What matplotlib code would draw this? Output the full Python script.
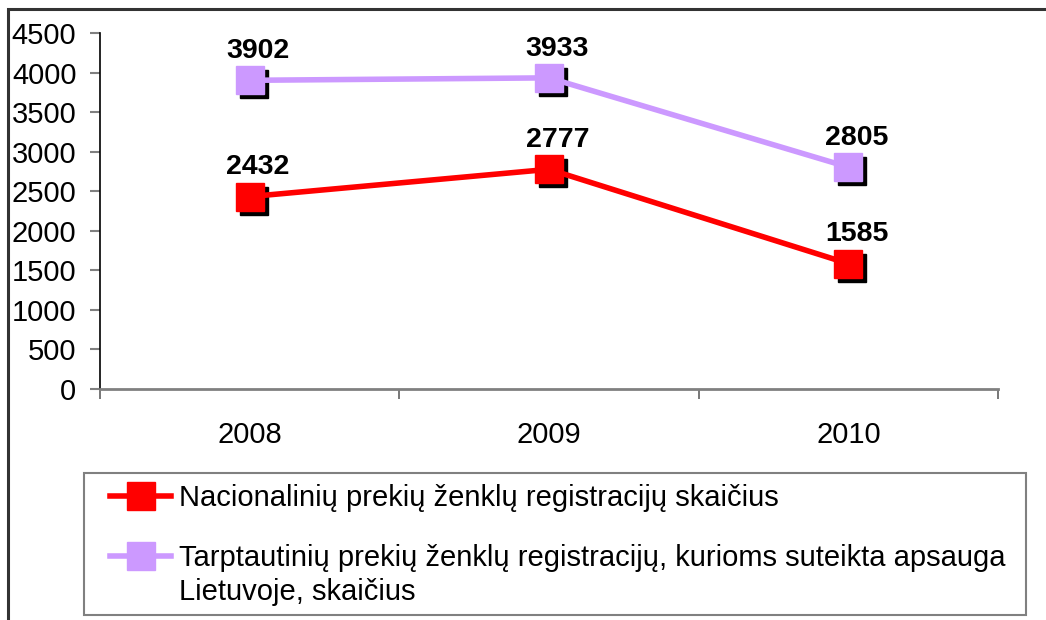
import matplotlib
matplotlib.use("Agg")
import matplotlib.pyplot as plt
from matplotlib import transforms
from matplotlib.patches import Rectangle
from matplotlib.lines import Line2D

years = ["2008", "2009", "2010"]
national = [2432, 2777, 1585]
international = [3902, 3933, 2805]
label_nat = "Nacionalinių prekių ženklų registracijų skaičius"
label_int_1 = "Tarptautinių prekių ženklų registracijų, kurioms suteikta apsauga"
label_int_2 = "Lietuvoje, skaičius"
yticks = [0, 500, 1000, 1500, 2000, 2500, 3000, 3500, 4000, 4500]

plt.rcParams['font.family'] = ['Liberation Sans', 'DejaVu Sans']

W, H = 1046, 620
fig = plt.figure(figsize=(W / 100, H / 100), dpi=100)
ax = fig.add_axes([100 / W, 1 - 389 / H, (998 - 100) / W, (389 - 33) / H])

x = list(range(len(years)))
red = "#FF0000"
purple = "#CC99FF"
ms = 19.5

for vals, col in [(international, purple), (national, red)]:
    shadow = transforms.offset_copy(ax.transData, fig=fig, x=4, y=-4, units='dots')
    ax.plot(x, vals, linestyle='none', marker='s', ms=ms, color='black',
            transform=shadow, zorder=3, clip_on=False)
    ax.plot(x, vals, color=col, lw=4, marker='s', ms=ms, mec=col, mfc=col,
            zorder=4, clip_on=False)
    for xi, v in zip(x, vals):
        ax.annotate(str(v), (xi, v), xytext=(6, 21), textcoords='offset points',
                    ha='center', va='center', fontsize=20.5, fontweight='bold')

ax.set_xlim(-0.5, 2.5)
ax.set_ylim(0, 4500)
ax.set_yticks(yticks)
ax.set_yticklabels([str(t) for t in yticks], fontsize=21)
ax.set_xticks(x)
ax.set_xticklabels(years, fontsize=21)
ax.set_xticks([-0.5, 0.5, 1.5, 2.5], minor=True)
ax.tick_params(axis='x', which='major', length=0, pad=23)
ax.tick_params(axis='x', which='minor', length=7, width=1.2, color='#606060', direction='out')
ax.tick_params(axis='y', length=7, width=1.5, color='#808080', pad=10)

for s in ['top', 'right']:
    ax.spines[s].set_visible(False)
ax.spines['left'].set_color('black')
ax.spines['left'].set_linewidth(1.2)
ax.spines['bottom'].set_color('#808080')
ax.spines['bottom'].set_linewidth(2)
ax.spines['left'].set_bounds(0, 4500)

# legend frame
fig.patches.append(Rectangle((84 / W, 1 - 615 / H), (1026 - 84) / W, (615 - 473) / H,
                             transform=fig.transFigure, fill=True, facecolor='white',
                             edgecolor='#808080', lw=1.5, zorder=1))

handles = [Line2D([], [], color=red, lw=4, marker='s', ms=ms, mfc=red, mec=red),
           Line2D([], [], color=purple, lw=4, marker='s', ms=ms, mfc=purple, mec=purple)]
leg = fig.legend(handles, [label_nat, label_int_1], loc='upper left',
                 bbox_to_anchor=(110 / W, 1 - 484 / H),
                 fontsize=21, frameon=False,
                 handlelength=2.1, handletextpad=0.28, borderpad=0,
                 labelspacing=1.09, borderaxespad=0)
leg.set_zorder(2)

fig.canvas.draw()
bb = leg.get_texts()[1].get_window_extent()
fig.text(bb.x0 / W, (bb.y0 - 34) / H, label_int_2, fontsize=21,
         ha='left', va='bottom', zorder=3)

fig.patches.append(Rectangle((8 / W, -0.1), 1.2, 1 - 9 / H + 0.1, transform=fig.transFigure,
                             fill=False, edgecolor='#333333', lw=2.2))

fig.savefig("out.png", dpi=100)
